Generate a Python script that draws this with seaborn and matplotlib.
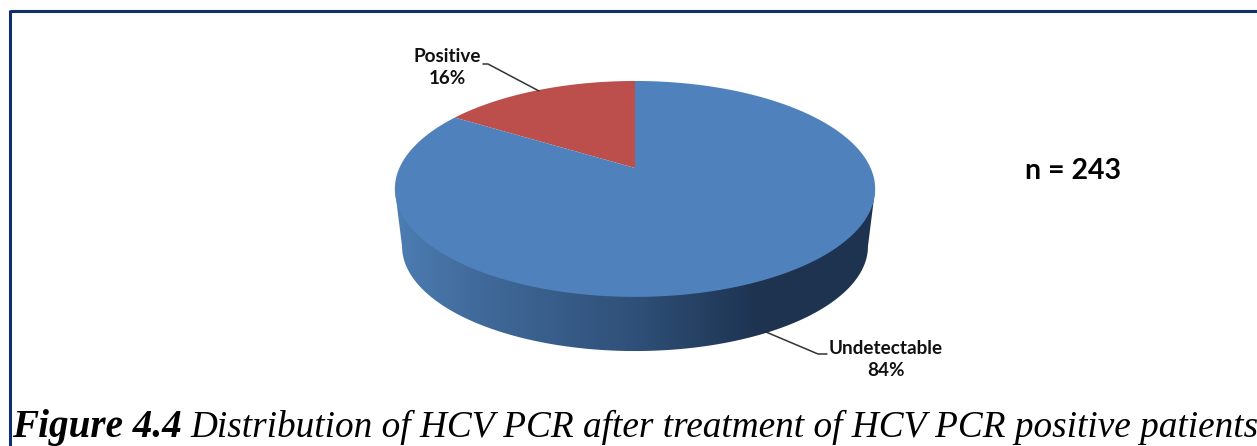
import numpy as np
import matplotlib
matplotlib.use('Agg')
import matplotlib.pyplot as plt
import seaborn as sns
from matplotlib.colors import LinearSegmentedColormap
from matplotlib.patches import Polygon
from matplotlib.path import Path
from matplotlib.transforms import Affine2D, Transform

categories = ['Positive', 'Undetectable']
shares = [16, 84]
pie_colors = ['#bc4f4c', '#4f81bd']
n_label = 'n = 243'
caption_bold = 'Figure 4.4'
caption_rest = 'Distribution of HCV PCR after treatment of HCV PCR positive patients'

navy = '#0f2f6f'
tilt_c = 0.194
sns.set_theme(style='white')
plt.rcParams['font.family'] = ['Lato', 'DejaVu Sans']


# pie is tilted with perspective, so centre of the top sits above the ellipse centre
def project(xy, x0=635.0, y0=168.0, m=235.6, k=103.9, drop=0.0, shrink=1.0):
    x, y = xy[:, 0], xy[:, 1]
    w = 1 + tilt_c * y
    return np.column_stack([x0 + shrink * m * x / w, y0 + drop - shrink * k * y / w])


class TiltTransform(Transform):
    input_dims = 2
    output_dims = 2
    is_affine = False

    def transform_non_affine(self, values):
        return project(np.asarray(values))

    def transform_path_non_affine(self, path):
        fine = path.transformed(Affine2D().scale(2000)).to_polygons(closed_only=True)[0] / 2000
        return Path(project(fine), closed=True)


fig, ax = plt.subplots(figsize=(12.57, 4.46), dpi=100)
fig.subplots_adjust(0, 0, 1, 1)

wedges, _ = ax.pie(shares, colors=pie_colors, startangle=90)
ax.set_aspect('auto')
ax.axis('off')

tilt = TiltTransform() + ax.transData
for w in wedges:
    w.set_transform(tilt)
    w.set_zorder(3)
    w.set_edgecolor('none')

# side wall with the dark gradient, starts where the projected rim is widest
start = np.arcsin(-tilt_c)
t = np.linspace(np.pi - start, 2 * np.pi + start, 200)
rim = np.column_stack([np.cos(t), np.sin(t)])
lower = project(rim, drop=58.0, shrink=0.97)
upper = project(rim)
wall = np.vstack([upper[:1], lower, upper[-1:], [[635, 168]]])
wall_cmap = LinearSegmentedColormap.from_list(
    'wall', [(0, '#4d7db3'), (0.16, '#416b9c'), (0.5, '#2f5078'), (0.76, '#1d3350'), (1, '#1d3350')])
grad = ax.imshow(np.linspace(0, 1, 480).reshape(1, -1), cmap=wall_cmap, extent=(395, 875, 360, 168),
                 aspect='auto', zorder=2)
ax.set_xlim(0, 1257)
ax.set_ylim(446, 0)
clip = Polygon(wall, closed=True, transform=ax.transData, facecolor='none', edgecolor='none')
ax.add_patch(clip)
grad.set_clip_path(clip)

# leader lines
ax.plot([483, 488, 539], [64, 64, 91], color='#333333', lw=1.1, zorder=4)
ax.plot([766, 818, 827], [332, 354, 354], color='#333333', lw=1.1, zorder=1)

# labels
label_font = dict(family='Lato', fontweight='bold', fontsize=13.6, color='#111111', ha='center', va='center')
ax.text(447, 56, categories[0], **label_font)
ax.text(447, 79, f'{shares[0]}%', **label_font)
ax.text(886, 348, categories[1], **label_font)
ax.text(886, 371, f'{shares[1]}%', **label_font)
ax.text(1073, 171, n_label, family='Lato', fontweight='bold', fontsize=20.5, color='black', ha='center', va='center')

# frame, only top and left are there
ax.plot([10, 1257], [11, 11], color=navy, lw=2.2, solid_capstyle='butt', clip_on=False)
ax.plot([10, 10], [10, 446], color=navy, lw=2.2, solid_capstyle='butt', clip_on=False)

# caption
ax.text(12, 427, caption_bold, family='Liberation Serif', style='italic', fontweight='bold', fontsize=28.2,
        color='black', ha='left', va='center')
ax.text(190, 427, caption_rest, family='Liberation Serif', style='italic', fontsize=26.8,
        color='black', ha='left', va='center')

plt.savefig('out.png', dpi=100)
plt.close()
